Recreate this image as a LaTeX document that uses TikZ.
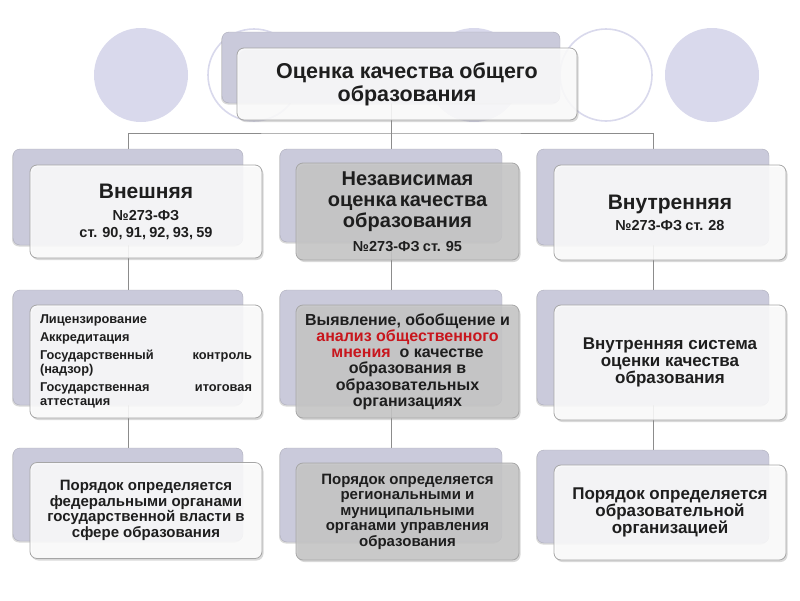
\documentclass[tikz,border=0pt]{standalone}
\usepackage{fontspec}
\setmainfont{Liberation Sans}
\usetikzlibrary{shadows,backgrounds}

\definecolor{lav}{HTML}{D9D9EC}
\definecolor{backfill}{HTML}{CACADB}
\definecolor{edge}{HTML}{A6A6A6}
\definecolor{txt}{HTML}{1E1E1E}
\definecolor{accent}{HTML}{C8161D}
\newcommand\setfs[2]{\fontsize{#1}{#2}\selectfont}
\newcommand\spreadline[2]{\leavevmode\hbox to 212pt{#1\hfill #2}}

\tikzset{
	backbox/.style={draw=backfill!85!black, fill=backfill, rounded corners=7pt, inner sep=0pt,
		drop shadow={shadow xshift=-1pt, shadow yshift=-1.5pt, opacity=.3}},
	frontbox/.style={draw=edge, line width=.8pt, fill=white, fill opacity=.85, text opacity=1,
		rounded corners=7pt, align=center, text=txt, inner sep=2pt,
		drop shadow={shadow xshift=1.5pt, shadow yshift=-2pt, opacity=.3}},
	greybox/.style={frontbox, fill=black!22},
	link/.style={draw=black!45, line width=.9pt},
}

\begin{document}
\begin{tikzpicture}[x=1pt, y=-1pt]
	\useasboundingbox (0,0) rectangle (800,600);
	% circles behind the title
	\foreach \cx in {141,474,712}
		\fill[lav] (\cx,75) circle (47pt);
	\foreach \cx in {254,606}
		\draw[lav, line width=1.6pt, fill=white] (\cx,75) circle (46pt);

	% title
	\node[backbox, minimum width=338pt, minimum height=71pt] (topb) at (391,67.5) {};
	\node[frontbox, minimum width=340pt, minimum height=72pt, font={\bfseries\setfs{21.5}{23}}] (top) at (407,84) {Оценка качества общего\\образования};

	% external
	\node[backbox, minimum width=230pt, minimum height=96pt] (ext1b) at (128,197) {};
	\node[frontbox, minimum width=232pt, minimum height=93pt, text width=222pt, font=\bfseries] (ext1) at (146,211.5)
		{{\setfs{21}{24}Внешняя\par}\vskip5pt{\setfs{14.5}{17}№273-ФЗ\\ст. 90, 91, 92, 93, 59\par}};
	\node[backbox, minimum width=230pt, minimum height=115pt] (ext2b) at (128,347.5) {};
	\node[frontbox, minimum width=232pt, minimum height=113pt, align=left, text width=212pt, font={\bfseries\setfs{12.8}{14}}] (ext2) at (146,361.5)
		{Лицензирование\\[4pt]Аккредитация\\[4pt]\spreadline{Государственный}{контроль}\\(надзор)\\[4pt]\spreadline{Государственная}{итоговая}\\аттестация};
	\node[backbox, minimum width=230pt, minimum height=93pt] (ext3b) at (128,494.5) {};
	\node[frontbox, minimum width=232pt, minimum height=96pt, font={\bfseries\setfs{15}{15.5}}] (ext3) at (146,510.5)
		{Порядок определяется\\федеральными органами\\государственной власти в\\сфере образования};

	% independent
	\node[backbox, minimum width=222pt, minimum height=93pt] (ind1b) at (391,195.5) {};
	\node[greybox, minimum width=223pt, minimum height=97pt, text width=215pt, font=\bfseries] (ind1) at (407.5,211.5)
		{{\setfs{20}{21}Независимая\\оценка качества\\образования\par}\vskip7pt{\setfs{14.5}{17}№273-ФЗ ст. 95\par}};
	\node[backbox, minimum width=222pt, minimum height=115pt] (ind2b) at (391,347.5) {};
	\node[greybox, minimum width=223pt, minimum height=113pt, font={\bfseries\setfs{16}{16.2}}] (ind2) at (407.5,361.5)
		{Выявление, обобщение и\\\textcolor{accent}{анализ общественного}\\\textcolor{accent}{мнения}\ \ о качестве\\образования в\\образовательных\\организациях};
	\node[backbox, minimum width=222pt, minimum height=94pt] (ind3b) at (391,495) {};
	\node[greybox, minimum width=223pt, minimum height=97pt, font={\bfseries\setfs{15}{15.5}}] (ind3) at (407.5,511.5)
		{Порядок определяется\\региональными и\\муниципальными\\органами управления\\образования};

	% internal
	\node[backbox, minimum width=232pt, minimum height=96pt] (int1b) at (653,197) {};
	\node[frontbox, minimum width=232pt, minimum height=95pt, text width=222pt, font=\bfseries] (int1) at (670,212.5)
		{{\setfs{21}{24}Внутренняя\par}\vskip4pt{\setfs{14.5}{17}№273-ФЗ ст. 28\par}};
	\node[backbox, minimum width=232pt, minimum height=115pt] (int2b) at (653,347.5) {};
	\node[frontbox, minimum width=232pt, minimum height=115pt, font={\bfseries\setfs{17}{17}}] (int2) at (670,362.5)
		{Внутренняя система\\оценки качества\\образования};
	\node[backbox, minimum width=232pt, minimum height=93pt] (int3b) at (653,496.5) {};
	\node[frontbox, minimum width=232pt, minimum height=95pt, font={\bfseries\setfs{17}{17}}] (int3) at (670,512.5)
		{Порядок определяется\\образовательной\\организацией};

	% connectors
	\coordinate (bus) at (391,133);
	\begin{scope}[on background layer]
		\draw[link] (topb.south) -- (bus);
		\draw[link] (ext1b.north) |- (bus) -| (int1b.north);
		\draw[link] (ind1b.north) -- (bus);
		\draw[link] (ext1b.south) -- (ext2b.north);
		\draw[link] (ext2b.south) -- (ext3b.north);
		\draw[link] (ind1b.south) -- (ind2b.north);
		\draw[link] (ind2b.south) -- (ind3b.north);
		\draw[link] (int1b.south) -- (int2b.north);
		\draw[link] (int2b.south) -- (int3b.north);
	\end{scope}
\end{tikzpicture}
\end{document}
